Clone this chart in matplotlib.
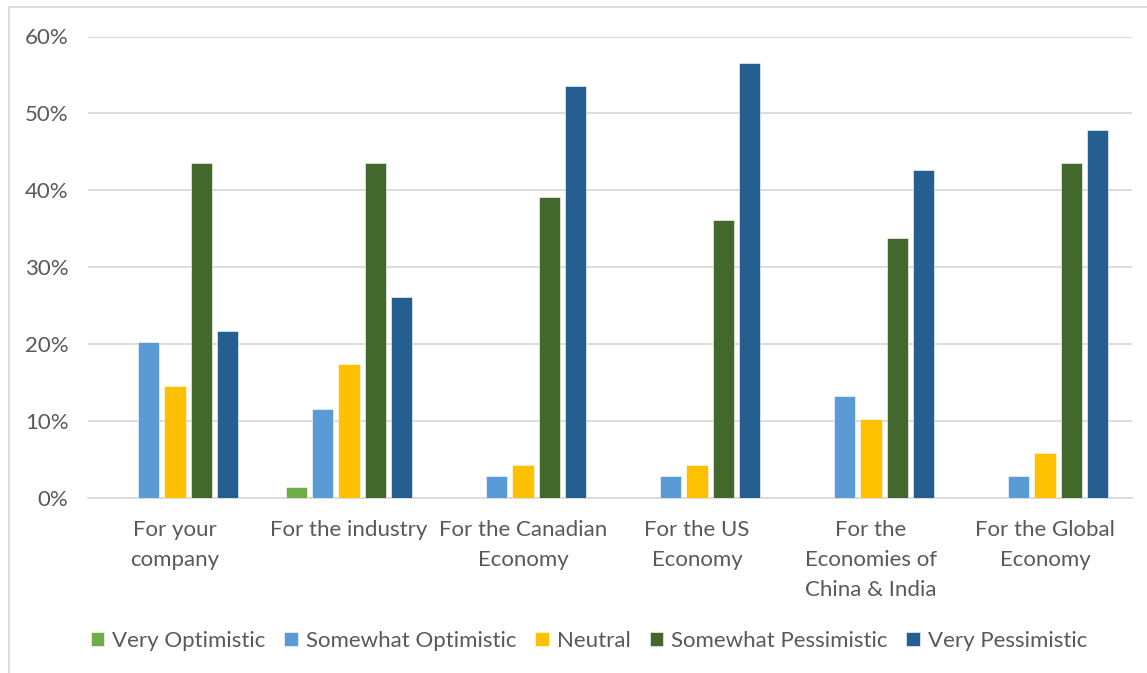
import matplotlib
matplotlib.use("Agg")
import matplotlib.pyplot as plt
from matplotlib.patches import Rectangle
import numpy as np

categories = ["For your\ncompany", "For the industry", "For the Canadian\nEconomy",
              "For the US\nEconomy", "For the\nEconomies of\nChina & India",
              "For the Global\nEconomy"]
series_names = ["Very Optimistic", "Somewhat Optimistic", "Neutral",
                "Somewhat Pessimistic", "Very Pessimistic"]
very_optimistic = [0.0, 1.4, 0.0, 0.0, 0.0, 0.0]
somewhat_optimistic = [20.3, 11.6, 2.9, 2.9, 13.2, 2.9]
neutral = [14.5, 17.4, 4.3, 4.3, 10.3, 5.8]
somewhat_pessimistic = [43.5, 43.5, 39.1, 36.2, 33.8, 43.5]
very_pessimistic = [21.7, 26.1, 53.6, 56.5, 42.6, 47.8]
yticks = [0, 10, 20, 30, 40, 50, 60]
ytick_labels = ["0%", "10%", "20%", "30%", "40%", "50%", "60%"]

colors = ["#70AD47", "#5B9BD5", "#FFC000", "#43682B", "#255E91"]
series = [very_optimistic, somewhat_optimistic, neutral,
          somewhat_pessimistic, very_pessimistic]

plt.rcParams["font.family"] = ["Lato", "DejaVu Sans"]
text_color = "#595959"
fs = 16

fig = plt.figure(figsize=(11.47, 6.73), dpi=100)
W, H = 1147, 673
ax = fig.add_axes([88 / W, 1 - 498 / H, (1132 - 88) / W, (498 - 36.5) / H])

x = np.arange(len(categories))
pitch = 0.152
width = 0.121
for i, (name, vals, c) in enumerate(zip(series_names, series, colors)):
    ax.bar(x + (i - 2) * pitch, vals, width=width, color=c, label=name,
           edgecolor="white", linewidth=0.4, zorder=3)

ax.set_xlim(-0.5, len(categories) - 0.5)
ax.set_ylim(0, 60)
ax.set_yticks(yticks)
ax.set_yticklabels(ytick_labels)
ax.set_xticks(x)
ax.set_xticklabels(categories, linespacing=1.63, va="top")
ax.tick_params(axis="both", length=0, colors=text_color, labelsize=fs)
ax.tick_params(axis="y", pad=14)
ax.tick_params(axis="x", pad=16)
ax.grid(axis="y", color="#D9D9D9", linewidth=1.3, zorder=0)
for s in ["top", "right", "left"]:
    ax.spines[s].set_visible(False)
ax.spines["bottom"].set_color("#D9D9D9")
ax.spines["bottom"].set_linewidth(1.3)

leg = ax.legend(loc="center", bbox_to_anchor=(589 / W, 1 - 641 / H),
                bbox_transform=fig.transFigure, ncol=5, frameon=False,
                fontsize=fs, handlelength=0.62, handleheight=0.62,
                handletextpad=0.35, columnspacing=0.85, borderaxespad=0)
for t in leg.get_texts():
    t.set_color(text_color)

# outer chart border
fig.patches.append(Rectangle((9 / W, -0.1), 1.2, 1 - 7 / H + 0.1,
                             transform=fig.transFigure, fill=False,
                             edgecolor="#D9D9D9", linewidth=1.3))

fig.savefig("out.png", dpi=100)
